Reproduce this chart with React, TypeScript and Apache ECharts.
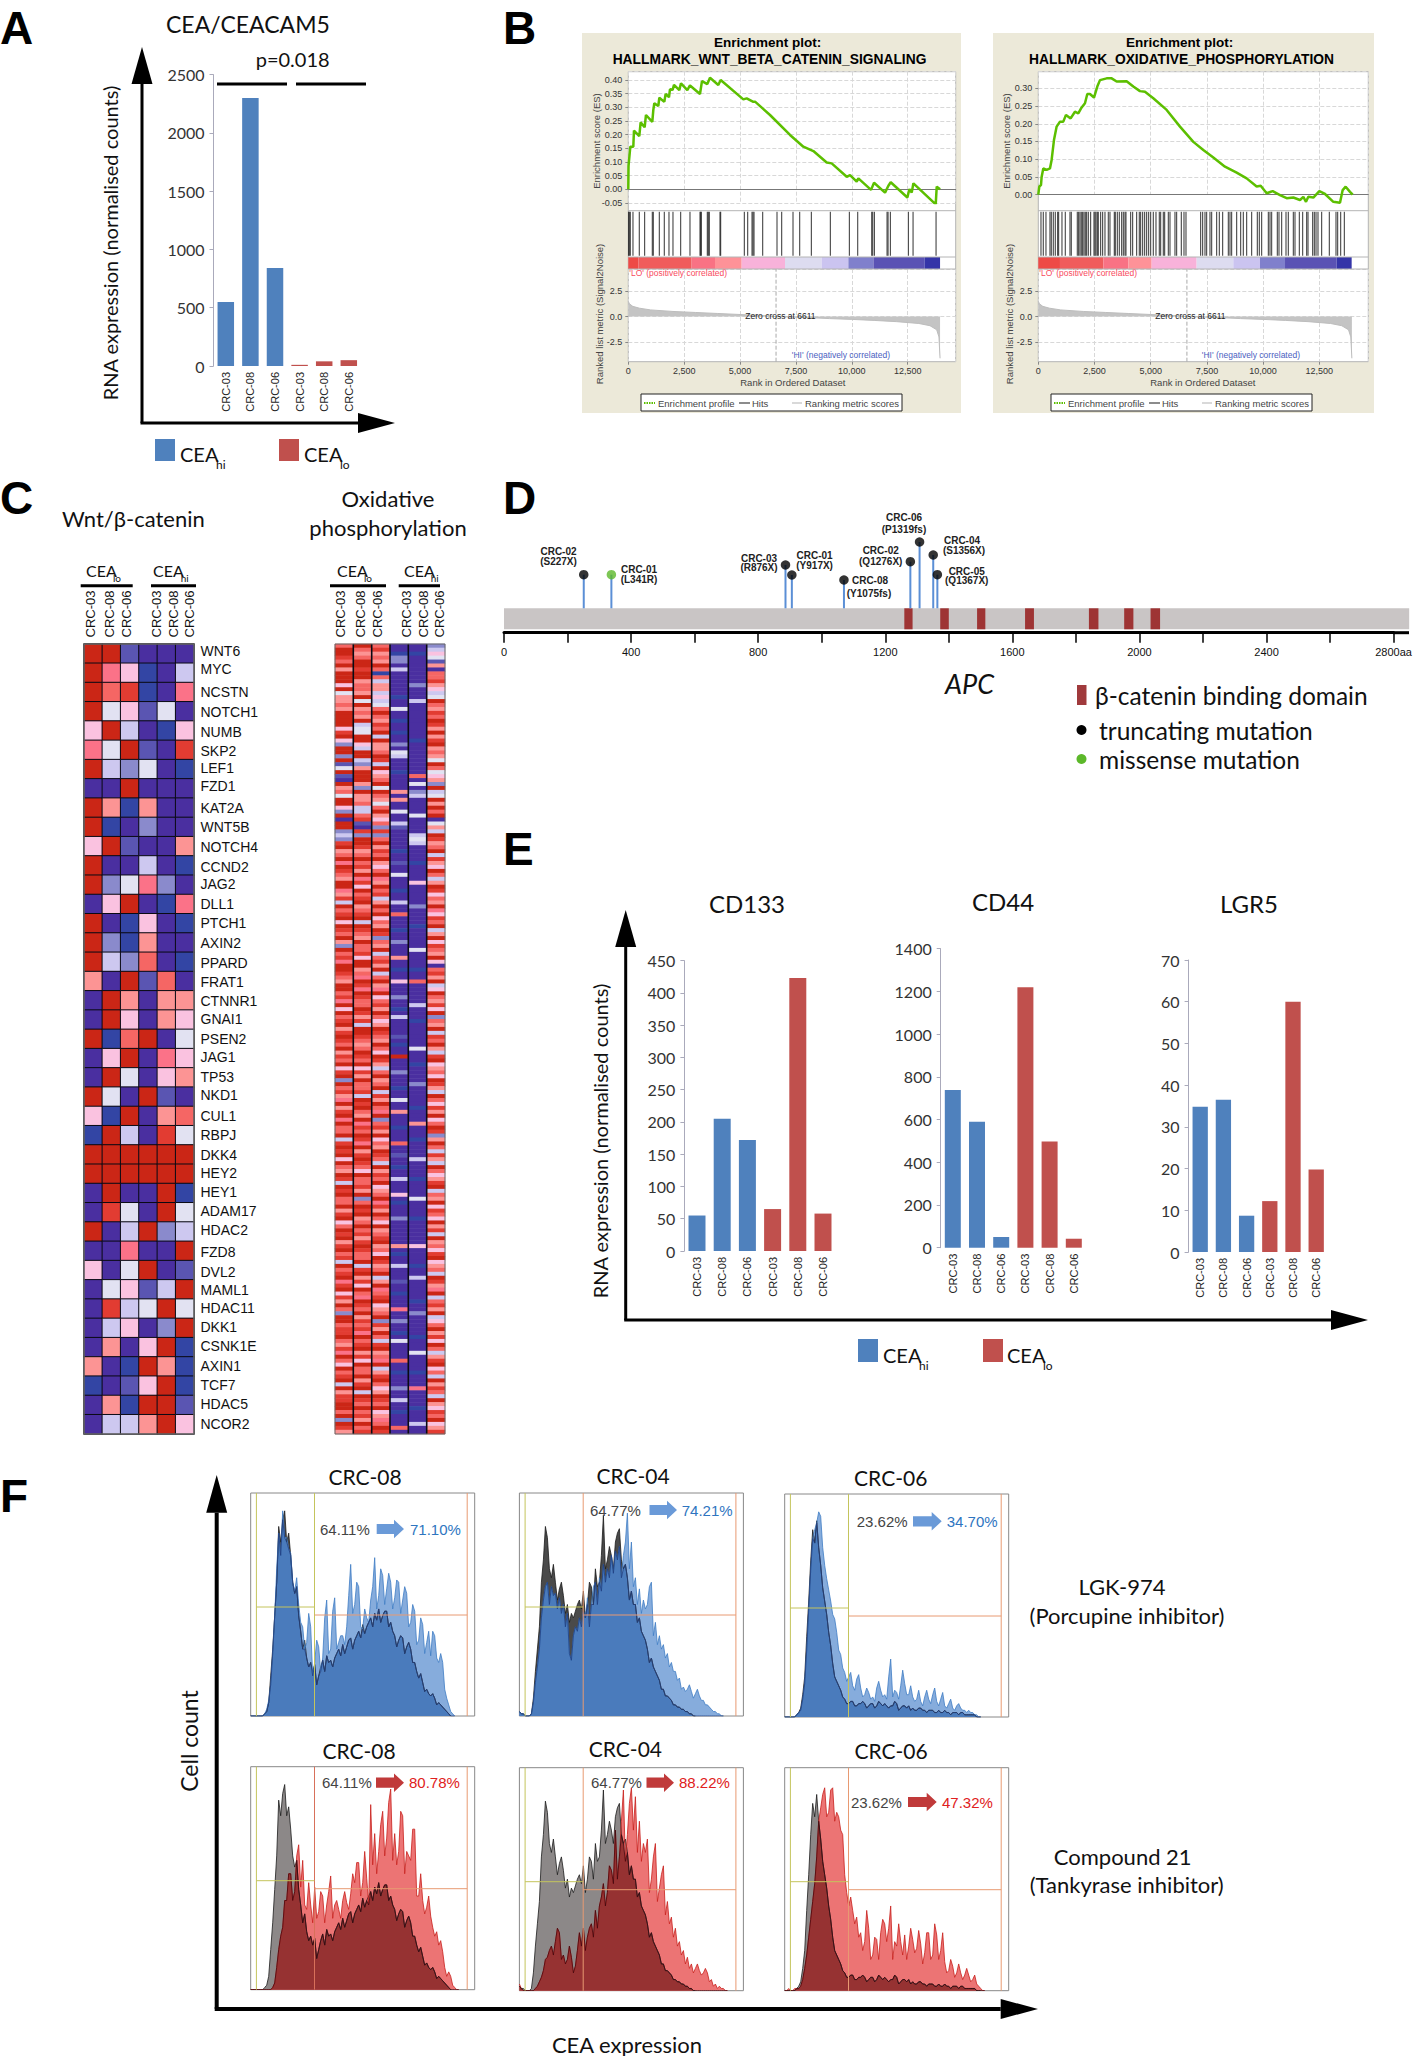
import React, { useEffect, useRef } from "react";
import * as echarts from "echarts";

const SAMPLES = ["CRC-03", "CRC-08", "CRC-06", "CRC-03", "CRC-08", "CRC-06"];
const CEA_VALUES = [550, 2300, 840, 10, 40, 50];
const CD133_VALUES = [55, 205, 172, 65, 423, 58];
const CD44_VALUES = [738, 590, 50, 1220, 497, 42];
const LGR5_VALUES = [34.8, 36.5, 8.7, 12.2, 60, 19.8];
const BAR_GROUP_A = ["hi", "hi", "hi", "lo", "lo", "lo"];

const WNT_ES: number[][] = [[0,0],[10,0.085],[90,0.156],[224,0.156],[254,0.215],[492,0.195],[552,0.245],[731,0.227],[791,0.272],[1074,0.247],[1119,0.29],[1164,0.315],[1343,0.305],[1388,0.335],[1611,0.32],[1671,0.349],[1820,0.337],[1865,0.366],[1984,0.364],[2044,0.382],[2283,0.363],[2357,0.388],[2641,0.363],[2760,0.38],[3208,0.349],[3297,0.396],[3536,0.385],[3655,0.408],[4028,0.382],[4133,0.4],[5147,0.329],[5297,0.333],[5595,0.32],[5684,0.32],[6341,0.272],[7236,0.199],[7833,0.156],[8281,0.14],[8877,0.098],[9101,0.095],[9773,0.046],[9922,0.052],[10220,0.028],[10295,0.04],[10862,-0.002],[10996,0.024],[11488,-0.012],[11638,0.013],[11742,0.026],[12488,-0.03],[12578,0.001],[12682,-0.012],[12757,0.022],[13756,-0.055],[13801,0.01],[13950,0]];
const OX_ES: number[][] = [[0,0],[44,0.023],[119,0.027],[148,0.05],[222,0.074],[371,0.07],[519,0.074],[593,0.098],[697,0.154],[816,0.192],[964,0.206],[1112,0.206],[1231,0.225],[1438,0.215],[1631,0.234],[1779,0.229],[1928,0.246],[2076,0.258],[2180,0.284],[2299,0.284],[2477,0.274],[2625,0.305],[2744,0.323],[3040,0.328],[3263,0.328],[3485,0.319],[3930,0.32],[4226,0.305],[4523,0.292],[4746,0.29],[5116,0.272],[5710,0.239],[6303,0.192],[6896,0.149],[7341,0.126],[7786,0.105],[8305,0.079],[8824,0.062],[9269,0.046],[9714,0.023],[9892,0.025],[10159,0.004],[10426,0.01],[10752,-0.001],[11049,-0.01],[11345,-0.008],[11642,-0.015],[11790,-0.006],[11909,-0.02],[12012,-0.006],[12235,-0.008],[12502,0.01],[12754,0.002],[13125,-0.02],[13421,-0.023],[13540,0.013],[13673,0.0226],[13866,0.008],[13985,0]];
const WNT_HITS = [15,45,90,209,492,731,1074,1119,1388,1611,1820,1999,2343,2760,3208,3238,3268,3536,3581,3626,4103,4133,5192,5342,5536,5580,5625,6013,6654,6863,7370,7669,8191,9041,9892,10265,10892,10937,11012,11578,11623,11727,12533,12742,13771];
const OX_HITS = [119,222,341,519,578,667,756,860,905,1053,1201,1409,1468,1735,1794,1854,1913,1972,2032,2091,2150,2225,2328,2477,2521,2566,2625,2669,2773,2862,2966,3114,3188,3381,3426,3515,3604,3708,3782,3856,3900,4108,4197,4375,4493,4553,4642,4731,4820,4909,4998,5116,5235,5383,5443,5561,5621,5784,5858,6080,6154,6362,6481,6570,7222,7311,7415,7489,7637,7712,7934,8053,8201,8453,8527,8601,8824,9002,9120,9269,9491,9743,9832,9936,10233,10307,10381,10633,10707,10826,11019,11122,11345,11419,11612,11760,11938,11998,12205,12279,12354,12442,12605,12946,13243,13317,13451,13614];
const RANK_METRIC: number[][] = [[0,1.5],[50,1.25],[200,1.0],[500,0.82],[1000,0.65],[2000,0.5],[3000,0.4],[4000,0.3],[5000,0.2],[6000,0.1],[6611,0],[8000,-0.1],[9000,-0.2],[10000,-0.28],[11000,-0.38],[12000,-0.5],[13000,-0.68],[13500,-0.9],[13800,-1.3],[13900,-2],[13950,-4.1]];
const WNT_BAND_EDGES = [0,447,2834,3879,5073,7013,8654,9848,10968,13251,13950];
const OX_BAND_EDGES = [0,964,2892,4004,5042,7044,8675,9863,10975,13273,13940];
const BAND_COLORS = ["#ee4a46","#f05c5c","#f97284","#fe9298","#f8b2da","#dddcf0","#cbc4f0","#8080cc","#5a52b4","#3434a8"];
const ZERO_CROSS = 6611;

const GENES = ["WNT6","MYC","NCSTN","NOTCH1","NUMB","SKP2","LEF1","FZD1","KAT2A","WNT5B","NOTCH4","CCND2","JAG2","DLL1","PTCH1","AXIN2","PPARD","FRAT1","CTNNR1","GNAI1","PSEN2","JAG1","TP53","NKD1","CUL1","RBPJ","DKK4","HEY2","HEY1","ADAM17","HDAC2","FZD8","DVL2","MAML1","HDAC11","DKK1","CSNK1E","AXIN1","TCF7","HDAC5","NCOR2"];
const GENE_LABEL_Y = [651,669,692,712,732,751,768,786,808,827,847,867,884,904,923,943,963,982,1001,1019,1039,1057,1077,1095,1116,1135,1155,1173,1192,1211,1230,1252,1272,1290,1308,1327,1346,1366,1385,1404,1424];
const WNT_ROWS = ["DDUNNN","DKPBNL","DSRBNK","DWPUWN","PDLNBP","KWDUNR","DLVWNB","NNDNNN","DMBMNN","DBNVNN","PDUNNM","DNNLNB","DVWKVN","NPDNBK","DNBPNB","DVBMNN","DLVSNB","MNDUSN","NDMNMM","NDPNMP","DBSDNW","NPDNKP","NDWNPM","DWNDUN","PBDNMS","BDLNRW","DDDDDD","DDDDDD","NDNNDB","NRWNDW","DNLDVL","NNKNND","PNWDNU","NWPULD","NRLWDW","NLPNVD","NMNPDB","MNBDMB","BNUPDB","NMBDDU","NLLMDP"];
const LEVEL_KEYS = "DRSKMPWLVUNB";
const LEVEL_COLORS = ["#cb2616","#e23c32","#f56664","#fb7288","#fc9494","#fac2e0","#e2e2f2","#cdc8f0","#8a8acc","#5a55b2","#4a2fa0","#3345a4"];

const OX_COLUMNS = [
  "SDDRSDMDDDPDWMMSMDDDDPRDPVDDVDUWDUNDMSWDDPVDNDDVLV"+"RDMSDKDRSMDDKMRLDSRDPDRSDMVDSRKDDRSMDDSRKDPDSRDMRD"+"RSDMRSDPRDVDSRMKDMRDKDSSDLRDRDPDSMDRLDRDSSDMRDPSDR"+"DMRDSRLDSRDKRDPRMDSVDDSRRDSMRKDSPDSRDLDMRRDDSDVDRM",
  "DSMSDDRDDMSSMDWDMSMDLWWDDPLDDLVMDDDMVDMMSLLSRUNRVD"+"DRMSDSRMDKRPDSRDMSRDLDRSMDSSRPDDMSKDRKDRSSDRMRLDDR"+"SMSDRSDPRMDSSRLDRDSMDKRSDRKDMRDRSPDSSRMDVSDRDMSDSR"+"MRDRSSDLRDMRPDSKDRSDMRSRKDSRDMRPDSSDMRDLDRSDSRMDSR",
  "SRMSMDSBSLMMLPLWSDSMRSDLDMMSDRLDPMSDWDSMWSDMPSVRVS"+"DMRSDMPSDKMDSRLMDSDPSMDRVSMDLSRMDLSDMKDPSRMDSPMDRS"+"MDSPDRMLSDMSDLRMDSKDVSRMDPSMDRSLDMRSDPMSDKRMDSPDMS"+"RDMSPDRMSDLMDKSRDPMSDVRMDSLRDMSKDLMRDSPMDRSDPMKSDR",
  "NNBVVNLNNNNNNBNNWNNBNNBNNVNWLNNNBNNNNMNMNNWNNLUNNN"+"NNBNNUNNWNNNBNNLNNSNNNBNNVNNNMNNBNNPNNNVNNBNLNNNNU"+"NBNNDNNNVNNNBNNWNNMNNNBNNNSNNUNNBNNLNNNPNBNNNVNNNN"+"NNMNBNNLNNNUNNBNNNKNNVNNBNWNNNNSNNBNNNVNNLNNBNNNSN",
  "NNBNNNNNNNVNNNLNNNNNNNNNBNNNNNNNNSNWNVLNNNNWNNNNLW"+"LNNNNBNNNNPNNNNNVNNNNBNNNNNWNNNNBNNSNNNNNLNNNBNNNN"+"NNWNNNBNNNNVNNNNNBNNNMNNNBNNNNLNNNNBNNNNWNNNNBNNNN"+"NNPNNNNBNNLNNNNNBNNVNNNNNBNNNWNNNNBNNNKNNNNBNNNLNN",
  "VLPWUMNSSRMPLWDSMRSDRMDMRDMSMWDSWPMVDLWDMDSDNWMLDR"+"MSDLRMPDSLMDRPSMDKPRSDLMDPRSMDPNSRMDLPDSMRPDVSMDLR"+"SDMLRDPMSPDRMLDSPRMDPSDRVMDSLRMLDSPMRDLSMDPRSPDMRL"+"DMSPRDPMSLDRMKDLSRMDLPSDMRPDSLMRDPSLDMRSLDMPRSDPMR",
];

const MUT_POS = [251,338,886,906,1070,1279,1308,1351,1364];
const MUT_HEIGHT = [33.6,33.6,43.3,33.3,28.3,46.6,66.3,53.3,33.6];
const MUT_TYPE = ["truncating","missense","truncating","truncating","truncating","truncating","truncating","truncating","truncating"];
const MUT_SAMPLE = ["CRC-02","CRC-01","CRC-03","CRC-01","CRC-08","CRC-02","CRC-06","CRC-04","CRC-05"];
const MUT_CHANGE = ["(S227X)","(L341R)","(R876X)","(Y917X)","(Y1075fs)","(Q1276X)","(P1319fs)","(S1356X)","(Q1367X)"];
const MUT_LABEL_XY = [[558.5,551,558.5,561.3],[639,569.3,639,579.3],[759,558,759,567.3],[814.6,555.7,814.6,565.3],[870,580,869,593.3],[880.7,550.7,880.7,561.3],[904,517.7,904,529.3],[962,540,964,550.3],[966.7,571,966.7,580.7]];
const DOMAINS = [[1260,1286],[1373,1400],[1489,1515],[1640,1668],[1841,1871],[1952,1981],[2035,2065]];
const APC_LENGTH_SHOWN = 2849;

const GREY_08 = [0,0,0,0,0,0,0,1,2,6,18,30,45,60,85,78,88,92,78,82,72,60,55,58,45,38,30,34,26,22,24,20,23,14,18,22,25,20,27,24,25,22,26,28,30,27,32,28,31,34,35,30,34,36,38,35,41,37,40,42,44,40,46,43,48,42,45,47,47,40,42,38,36,31,34,36,35,28,31,33,30,24,24,20,17,19,15,11,12,10,9,10,8,5,6,5,4,3,2,1,0];
const BLUE_08 = [0,0,0,0,0,0,0,1,3,7,14,28,45,66,82,72,92,80,80,75,73,60,56,62,50,42,40,30,33,46,40,18,24,34,31,20,26,44,52,28,30,47,53,30,33,36,36,32,40,54,68,46,50,60,58,40,39,48,44,42,52,58,71,48,54,66,63,50,57,64,60,48,53,61,60,46,52,58,55,40,42,50,47,32,34,44,41,28,33,38,27,38,36,26,24,28,24,12,8,5,2,1,0];
const RED_08 = [0,0,0,0,0,0,0,0,0,0,0,1,3,10,18,24,28,40,40,52,52,40,44,60,65,46,58,38,36,48,38,30,46,32,35,44,42,30,38,44,51,32,38,40,36,32,40,44,39,36,43,52,48,57,57,42,48,62,50,38,83,56,70,52,62,74,80,60,68,84,90,58,70,56,62,80,78,52,62,60,58,72,72,42,42,52,40,34,37,42,33,28,24,26,20,22,17,10,6,8,6,2,1,0,0];
const GREY_04 = [2,1,1,0,0,0,1,8,20,30,40,60,70,85,80,66,62,68,60,52,57,60,54,46,50,42,46,44,47,50,52,48,56,44,50,60,58,50,66,58,60,72,90,66,70,76,72,66,78,82,84,70,66,68,62,52,56,50,50,42,44,38,36,34,30,24,26,22,20,18,16,12,12,9,9,8,7,5,5,4,4,3,3,2,2,1,1,0,0];
const BLUE_04 = [2,1,1,0,0,0,1,6,15,22,30,44,52,58,60,50,58,54,55,48,53,46,50,40,46,28,25,36,40,38,44,40,47,44,53,40,50,58,60,50,62,56,68,60,66,62,72,64,74,70,76,62,72,78,91,66,78,58,62,50,57,46,52,48,50,58,60,36,42,32,36,30,32,26,28,22,24,20,20,16,17,12,13,11,12,14,11,8,10,12,9,7,7,5,5,4,3,2,2,1,1,0,0];
const RED_04 = [3,1,0,0,0,0,0,0,1,2,4,6,9,14,15,18,20,16,22,28,26,14,16,12,14,20,15,8,11,18,26,20,28,18,24,28,30,24,36,28,38,42,48,38,44,56,54,48,72,50,60,76,90,58,70,84,91,72,87,62,76,58,66,62,68,44,50,60,66,40,46,52,56,34,40,30,33,24,28,20,22,16,18,12,15,10,12,8,10,12,9,7,8,10,8,4,5,2,3,1,2,1,1,0,0];
const GREY_06 = [0,0,0,0,0,0,1,2,4,10,18,36,52,70,84,78,88,76,68,58,52,46,38,32,24,18,16,14,12,9,8,6,6,7,7,5,5,6,6,7,6,4,5,6,6,4,5,7,6,5,6,5,4,5,5,7,6,3,4,5,5,4,5,3,4,3,3,4,4,3,3,2,3,3,3,2,2,3,2,2,3,2,2,1,2,2,2,1,2,2,1,1,1,1,1,1,0,0,0];
const BLUE_06 = [0,0,0,0,0,0,1,2,3,8,15,30,48,66,80,84,87,92,90,76,68,62,57,52,46,44,38,30,28,22,20,16,18,20,14,12,17,19,13,9,10,13,11,8,9,7,13,16,12,9,10,8,18,26,9,12,11,8,14,21,15,10,10,14,9,7,8,12,7,5,9,12,8,6,10,13,7,5,8,11,5,4,6,8,4,3,5,6,4,3,3,2,3,2,2,1,1,0,0];
const RED_06 = [0,0,1,0,0,1,1,1,2,5,10,16,24,32,40,48,60,76,82,88,91,78,80,90,91,76,80,78,72,70,52,44,38,42,36,30,33,24,26,18,22,36,28,14,16,24,23,14,26,32,30,22,28,38,14,22,20,30,22,16,25,14,20,28,23,17,19,27,21,12,17,26,26,14,16,30,25,14,18,26,13,8,9,14,11,6,8,12,8,5,7,10,7,4,5,7,3,2,1,0,0];

const SANS = "'Liberation Sans'";
const HUMAN = "Lato";
const BLUE = "#4f81bd";
const RED = "#c0504d";

const grids: any[] = [], xAxes: any[] = [], yAxes: any[] = [], series: any[] = [], gfx: any[] = [];

function addGrid(left: number, top: number, width: number, height: number, g: any, xa: any, ya: any) {
  const i = grids.length;
  grids.push({ left, top, width, height, show: false, containLabel: false, ...g });
  xAxes.push({ gridIndex: i, type: "value", show: false, ...xa });
  yAxes.push({ gridIndex: i, type: "value", show: false, ...ya });
  return i;
}
function T(text: string, x: number, y: number, o: any = {}) {
  const { size = 14, weight = "normal", family = HUMAN, color = "#111", align = "left", rot = 0, italic = false } = o;
  gfx.push({
    type: "text", x, y, rotation: rot, z: 100,
    style: { text, fill: color, font: `${italic ? "italic " : ""}${weight} ${size}px ${family}`, align, verticalAlign: "middle", textAlign: align, textVerticalAlign: "middle" },
  });
}
function L(x1: number, y1: number, x2: number, y2: number, stroke: string, lineWidth = 1, z = 100, lineDash?: number[]) {
  gfx.push({ type: "line", z, shape: { x1, y1, x2, y2 }, style: { stroke, lineWidth, lineDash } });
}
function R(x: number, y: number, width: number, height: number, fill: string, stroke?: string, lineWidth = 1, z = 100) {
  gfx.push({ type: "rect", z, shape: { x, y, width, height }, style: { fill, stroke, lineWidth } });
}
function P(points: number[][], fill: string) {
  gfx.push({ type: "polygon", z: 100, shape: { points }, style: { fill } });
}
function axesArrows(x0: number, yTop: number, yBase: number, yBot: number, xTip: number, xBase: number, halfUp: number, halfRight: number, w: number) {
  L(x0, yBase, x0, yBot, "#000", w);
  L(x0 - w / 2, yBot, xBase, yBot, "#000", w);
  P([[x0, yTop], [x0 - halfUp, yBase], [x0 + halfUp, yBase]], "#000");
  P([[xTip, yBot], [xBase, yBot - halfRight], [xBase, yBot + halfRight]], "#000");
}
function ceaLegend(x: number, y: number, w: number, h: number, textX: number, textY: number, subDx: number, subDy: number, color: string, sub: string, size: number) {
  R(x, y, w, h, color);
  T("CEA", textX, textY, { size });
  T(sub, textX + subDx, textY + subDy, { size: size * 0.6 });
}

function barPanel(left: number, top: number, unit: number, height: number, values: number[], ymax: number, interval: number, bw: number) {
  const i = addGrid(left, top, unit * 6, height, {},
    { type: "category", show: true, data: SAMPLES, axisLine: { show: false }, axisTick: { show: false },
      axisLabel: { rotate: 90, interval: 0, margin: 6, fontSize: 11, fontFamily: SANS, color: "#222" } },
    { show: true, min: 0, max: ymax, interval, splitLine: { show: false },
      axisLine: { show: true, lineStyle: { color: "#aab", width: 1 } },
      axisTick: { show: true, length: 4, lineStyle: { color: "#aab" } },
      axisLabel: { fontSize: 16, fontFamily: HUMAN, color: "#333", margin: 9, formatter: (v: number) => String(v) } });
  series.push({ type: "bar", xAxisIndex: i, yAxisIndex: i, barWidth: bw,
    data: values.map((v, k) => ({ value: v, itemStyle: { color: BAR_GROUP_A[k] === "hi" ? BLUE : RED } })) });
}

const heatSeries: number[] = [];
function heat(left: number, top: number, width: number, height: number, rows: number, columns: (c: number, r: number) => string, border: number) {
  const i = addGrid(left, top, width, height, {},
    { type: "category", data: [0, 1, 2, 3, 4, 5] },
    { type: "category", inverse: true, data: Array.from({ length: rows }, (_, k) => k) });
  const data: number[][] = [];
  for (let c = 0; c < 6; c++) for (let r = 0; r < rows; r++) data.push([c, r, LEVEL_KEYS.indexOf(columns(c, r))]);
  heatSeries.push(series.length);
  series.push({ type: "heatmap", xAxisIndex: i, yAxisIndex: i, data,
    itemStyle: border ? { borderColor: "#0a0a14", borderWidth: border } : {} });
}

function heatHeader(cols: number[], x1: number, lo: number, x2: number, hi: number, l1: number[], l2: number[]) {
  T("CEA", x1, 570, { size: 16 }); T("lo", lo, 578, { size: 10 });
  T("CEA", x2, 570, { size: 16 }); T("hi", hi, 578, { size: 10 });
  L(l1[0], 585.7, l1[1], 585.7, "#000", 3); L(l2[0], 585.7, l2[1], 585.7, "#000", 3);
  cols.forEach((x, k) => T(SAMPLES[k], x, 614, { size: 13, family: SANS, align: "center", rot: Math.PI / 2 }));
}

function gsea(cfg: any) {
  const { bx, bw, left, right, xMax, title, es, hits, edges, esMin, esMax, esTop, esBottom, esClip } = cfg;
  const width = right - left;
  addGrid(bx, 33, bw, 380, { show: true, backgroundColor: "#ece9d9", borderWidth: 0 }, { min: 0, max: 1 }, { min: 0, max: 1 });
  addGrid(left, 71.7, width, 290, { show: true, backgroundColor: "#fff", borderColor: "#b4b4b4", borderWidth: 1 }, { min: 0, max: 1 }, { min: 0, max: 1 });
  const dash = { show: true, lineStyle: { color: "#d8d8d8", type: "dashed", width: 1 } };
  const ei = addGrid(left, esTop, width, esBottom - esTop, {},
    { show: true, min: 0, max: xMax, interval: 2500, axisLabel: { show: false }, axisTick: { show: false }, splitLine: dash,
      axisLine: { show: true, onZero: true, lineStyle: { color: "#777", width: 1 } } },
    { show: true, min: esMin, max: esMax, interval: 0.05, splitLine: dash, axisLine: { show: false },
      axisTick: { show: true, length: 3, lineStyle: { color: "#888" } },
      axisLabel: { showMaxLabel: false, margin: 6, fontSize: 9, fontFamily: SANS, color: "#333", formatter: (v: number) => v.toFixed(2) } });
  series.push({ type: "line", xAxisIndex: ei, yAxisIndex: ei, data: es, symbol: "none", clip: !esClip, z: 5, lineStyle: { color: "#5cbf00", width: 2.5 } });
  const hi = addGrid(left, 210.7, width, 46, {}, { min: 0, max: xMax }, { min: 0, max: 1 });
  series.push({ type: "scatter", xAxisIndex: hi, yAxisIndex: hi, symbol: "rect", symbolSize: [1.1, 44], itemStyle: { color: "#151515" }, data: hits.map((h: number) => [h, 0.5]) });
  const ci = addGrid(left, 257, width, 12, {}, { min: 0, max: xMax }, { min: 0, max: 1 });
  series.push({ type: "custom", xAxisIndex: ci, yAxisIndex: ci,
    data: edges.slice(0, -1).map((e: number, k: number) => [e, edges[k + 1]]),
    renderItem: (p: any, api: any) => {
      const a = api.coord([api.value(0), 0]), b = api.coord([api.value(1), 1]);
      return { type: "rect", shape: { x: a[0], y: b[1], width: b[0] - a[0], height: a[1] - b[1] }, style: { fill: BAND_COLORS[p.dataIndex] } };
    } });
  const fi = addGrid(left, 269, width, 92.7, {},
    { show: true, min: 0, max: xMax, interval: 2500, axisLine: { show: false }, axisTick: { show: true, length: 3, lineStyle: { color: "#888" } }, splitLine: dash,
      axisLabel: { showMaxLabel: false, margin: 5, fontSize: 9, fontFamily: SANS, color: "#333", formatter: (v: number) => v.toLocaleString("en-US") } },
    { min: 0, max: 1 });
  series.push({ type: "line", xAxisIndex: fi, yAxisIndex: fi, symbol: "none", data: [[ZERO_CROSS, 0], [ZERO_CROSS, 1]], lineStyle: { color: "#aaa", width: 1, type: "dashed" } });
  const ri = addGrid(left, 269, width, 73, {},
    { min: 0, max: xMax },
    { show: true, min: -2.5, max: 4.67, interval: 2.5, axisLine: { show: false }, splitLine: dash,
      axisTick: { show: true, length: 3, lineStyle: { color: "#888" } },
      axisLabel: { showMaxLabel: false, margin: 6, fontSize: 9, fontFamily: SANS, color: "#333", formatter: (v: number) => v.toFixed(1) } });
  series.push({ type: "line", xAxisIndex: ri, yAxisIndex: ri, symbol: "none", clip: false, data: RANK_METRIC, z: 4, lineStyle: { color: "#bdbdbd", width: 1 }, areaStyle: { color: "#c4c4c4", origin: 0, opacity: 1 } });
  L(left, 210.7, right, 210.7, "#b4b4b4", 1); L(left, 257, right, 257, "#b4b4b4", 1); L(left, 269, right, 269, "#b4b4b4", 1);
  const cx = bx + bw / 2 - 2;
  T("Enrichment plot:", cx - 2, 42, { size: 13.5, weight: "bold", family: SANS, align: "center", color: "#000" });
  T(title, cx, 59, { size: 13.8, weight: "bold", family: SANS, align: "center", color: "#000" });
  T("Enrichment score (ES)", left - 32, 141, { size: 9.5, family: SANS, color: "#444", align: "center", rot: Math.PI / 2 });
  T("Ranked list metric (Signal2Noise)", left - 28.5, 314, { size: 9.5, family: SANS, color: "#444", align: "center", rot: Math.PI / 2 });
  T("'LO' (positively correlated)", left + 1, 273, { size: 8.5, family: SANS, color: "#f84a60" });
  T("Zero cross at 6611", left + 117, 316, { size: 8.5, family: SANS, color: "#222" });
  T("'HI' (negatively correlated)", left + 163.5, 355, { size: 8.5, family: SANS, color: "#4a5ec0" });
  T("Rank in Ordered Dataset", left + 164.5, 382.7, { size: 9.5, family: SANS, color: "#444", align: "center" });
  const bxl = left + 12.7;
  R(bxl, 394, 261, 17, "#fff", "#222", 1);
  L(bxl + 3, 403, bxl + 14, 403, "#5cbf00", 2, 100, [1.5, 1]);
  T("Enrichment profile", bxl + 17, 403.5, { size: 9.5, family: SANS, color: "#444" });
  L(bxl + 98, 403, bxl + 109, 403, "#666", 1.5);
  T("Hits", bxl + 111, 403.5, { size: 9.5, family: SANS, color: "#444" });
  L(bxl + 151, 403, bxl + 161, 403, "#ccc", 1.5);
  T("Ranking metric scores", bxl + 164, 403.5, { size: 9.5, family: SANS, color: "#444" });
}

function gate(left: number, top: number, midColor: string) {
  const yellow = "#c4c45c", orange = "#e89a72";
  L(left + 5.7, top, left + 5.7, top + 223, yellow, 1);
  L(left + 63.8, top, left + 63.8, top + 223, midColor, 1);
  L(left + 216.5, top, left + 216.5, top + 223, orange, 1);
  L(left + 5.7, top + 114, left + 63.8, top + 114, yellow, 1);
  L(left + 63.8, top + 122, left + 216.5, top + 122, orange, 1);
}
function hist(left: number, top: number, grey: number[], treated: number[], scheme: any) {
  const i = addGrid(left, top, 224, 223, { show: true, backgroundColor: "#fff", borderColor: "#888", borderWidth: 1 },
    { min: 0, max: 112 }, { min: 0, max: 100 });
  const n = Math.max(grey.length, treated.length);
  const overlap = Array.from({ length: n }, (_, k) => [k, Math.min(grey[k] ?? 0, treated[k] ?? 0)]);
  const common = { type: "line", xAxisIndex: i, yAxisIndex: i, symbol: "none" };
  series.push({ ...common, data: grey.map((v, k) => [k, v]), lineStyle: { color: "#1c1c1c", width: 0.8 }, areaStyle: { color: scheme.grey, opacity: 1 } });
  series.push({ ...common, data: treated.map((v, k) => [k, v]), lineStyle: { color: scheme.line, width: 0.8 }, areaStyle: { color: scheme.light, opacity: 1 } });
  series.push({ ...common, data: overlap, lineStyle: { color: scheme.dark, width: 0.8 }, areaStyle: { color: scheme.solid, opacity: 1 } });
}
function pct(xa: number, y: number, a: string, arrow: number[], xb: number, b: string, arrowColor: string, bColor: string) {
  T(a, xa, y, { size: 15, family: SANS, color: "#444" });
  const [x1, x2] = arrow, h = 9.3, head = 10;
  P([[x1, y - h * 0.55], [x2 - head, y - h * 0.55], [x2 - head, y - h], [x2, y], [x2 - head, y + h], [x2 - head, y + h * 0.55], [x1, y + h * 0.55]], arrowColor);
  T(b, xb, y, { size: 15, family: SANS, color: bColor });
}

function build() {
  // Panel letters
  [["A", 0, 28], ["B", 503, 28], ["C", 0, 498], ["D", 503, 498], ["E", 503, 849], ["F", 0, 1496]].forEach(([t, x, y]) =>
    T(t as string, x as number, y as number, { size: 46, weight: "bold", family: SANS, color: "#000" }));

  // Panel A
  T("CEA/CEACAM5", 166, 24, { size: 23 });
  T("p=0.018", 255.7, 59, { size: 20 });
  L(217, 84, 287, 84, "#000", 3); L(296, 84, 366, 84, "#000", 3);
  T("RNA expression (normalised counts)", 110, 243, { size: 20, align: "center", rot: Math.PI / 2 });
  axesArrows(142, 47, 84, 423, 395, 358, 10.5, 10, 3);
  barPanel(213.5, 74.7, 24.6, 291.3, CEA_VALUES, 2500, 500, 16.5);
  ceaLegend(155, 439, 20, 22, 180, 454, 36, 10, BLUE, "hi", 20);
  ceaLegend(279, 439, 20, 22, 304, 454, 36, 10, RED, "lo", 20);

  // Panel B
  gsea({ bx: 582, bw: 379, left: 628.3, right: 955.7, xMax: 14650, title: "HALLMARK_WNT_BETA_CATENIN_SIGNALING", es: WNT_ES, hits: WNT_HITS, edges: WNT_BAND_EDGES, esMin: -0.05, esMax: 0.4304, esTop: 71.7, esBottom: 203, esClip: false });
  gsea({ bx: 993, bw: 381, left: 1038.3, right: 1368.3, xMax: 14680, title: "HALLMARK_OXIDATIVE_PHOSPHORYLATION", es: OX_ES, hits: OX_HITS, edges: OX_BAND_EDGES, esMin: 0, esMax: 0.3468, esTop: 71.7, esBottom: 194.7, esClip: true });

  // Panel C
  T("Wnt/β-catenin", 62, 518, { size: 22 });
  T("Oxidative", 388, 498, { size: 22, align: "center" });
  T("phosphorylation", 388, 527, { size: 22, align: "center" });
  heatHeader([90, 109.3, 126.7, 156.7, 173.3, 189.3], 86, 113, 153, 180.7, [80.7, 132.7], [151, 196]);
  heatHeader([340.7, 360, 377.3, 406.7, 423.3, 439.3], 337, 364, 404, 430.7, [330, 386], [398.7, 440]);
  heat(84, 644, 110, 790, GENES.length, (c, r) => WNT_ROWS[r][c], 1);
  R(84, 644, 110, 790, "none", "#666", 1.5);
  GENES.forEach((g, k) => T(g, 200.5, GENE_LABEL_Y[k], { size: 14, family: SANS, color: "#111" }));
  heat(335, 644, 110, 790, 200, (c, r) => OX_COLUMNS[c][r] ?? "N", 0);
  [353.3, 371.7, 390, 408.3, 426.7].forEach((x) => L(x, 644, x, 1434, "#0a0a14", 1.6));
  R(335, 644, 110, 790, "none", "#666", 1);

  // Panel D
  const di = addGrid(504, 500, 889.6, 129.3, {},
    { show: true, min: 0, max: 2800, interval: 200, offset: 3.4,
      axisLine: { show: true, onZero: false, lineStyle: { color: "#000", width: 3 } },
      axisTick: { show: true, length: 10, lineStyle: { color: "#000", width: 1.5 } },
      axisLabel: { margin: 14, fontSize: 11, fontFamily: SANS, color: "#111", interval: 0,
        formatter: (v: number) => (v === 2800 ? "2800aa" : v % 400 === 0 ? String(v) : "") }, splitLine: { show: false } },
    { min: -21, max: 108.3 });
  L(1393, 632.7, 1409, 632.7, "#000", 3);
  series.push({ type: "custom", xAxisIndex: di, yAxisIndex: di, clip: false, data: [[0, APC_LENGTH_SHOWN]],
    renderItem: (_: any, api: any) => {
      const a = api.coord([api.value(0), -21]), b = api.coord([api.value(1), 0]);
      return { type: "rect", shape: { x: a[0], y: b[1], width: b[0] - a[0], height: a[1] - b[1] }, style: { fill: "#c9c5c5" } };
    } });
  series.push({ type: "custom", xAxisIndex: di, yAxisIndex: di, clip: false, data: DOMAINS,
    renderItem: (_: any, api: any) => {
      const a = api.coord([api.value(0), -21]), b = api.coord([api.value(1), 0]);
      return { type: "rect", shape: { x: a[0], y: b[1], width: b[0] - a[0], height: a[1] - b[1] }, style: { fill: "#9e3434" } };
    } });
  series.push({ type: "custom", xAxisIndex: di, yAxisIndex: di, clip: false, data: MUT_POS.map((p, k) => [p, MUT_HEIGHT[k]]),
    renderItem: (_: any, api: any) => {
      const a = api.coord([api.value(0), 0]), b = api.coord([api.value(0), api.value(1)]);
      return { type: "line", shape: { x1: a[0], y1: a[1], x2: b[0], y2: b[1] }, style: { stroke: "#5b8fd6", lineWidth: 2 } };
    } });
  series.push({ type: "scatter", xAxisIndex: di, yAxisIndex: di, symbolSize: 9.5, z: 6,
    data: MUT_POS.map((p, k) => ({ value: [p, MUT_HEIGHT[k]], itemStyle: { color: MUT_TYPE[k] === "missense" ? "#5cb82a" : "#000" } })) });
  MUT_SAMPLE.forEach((s, k) => {
    const [x1, y1, x2, y2] = MUT_LABEL_XY[k];
    T(s, x1, y1, { size: 10, weight: "bold", family: SANS, align: "center", color: "#222" });
    T(MUT_CHANGE[k], x2, y2, { size: 10, weight: "bold", family: SANS, align: "center", color: "#222" });
  });
  T("APC", 969.6, 683, { size: 27, italic: true, align: "center" });
  R(1077, 685, 9.5, 20, "#a03a3c");
  T("β-catenin binding domain", 1095, 695, { size: 24.5 });
  gfx.push({ type: "circle", z: 100, shape: { cx: 1081.5, cy: 730, r: 5 }, style: { fill: "#000" } });
  T("truncating mutation", 1099, 730, { size: 24.5 });
  gfx.push({ type: "circle", z: 100, shape: { cx: 1081.5, cy: 759, r: 5 }, style: { fill: "#5cb82a" } });
  T("missense mutation", 1099, 759, { size: 24.5 });

  // Panel E
  T("CD133", 747, 903, { size: 24, align: "center" });
  T("CD44", 1003, 901, { size: 24, align: "center" });
  T("LGR5", 1249, 903, { size: 24, align: "center" });
  T("RNA expression (normalised counts)", 600, 1141, { size: 20, align: "center", rot: Math.PI / 2 });
  axesArrows(625.7, 910, 947, 1320, 1368, 1331, 10.5, 10, 3);
  barPanel(684.4, 960.7, 25.2, 290.3, CD133_VALUES, 450, 50, 17);
  barPanel(940.7, 948.7, 24.2, 299, CD44_VALUES, 1400, 200, 16);
  barPanel(1188.6, 960, 23.2, 292, LGR5_VALUES, 70, 10, 15.3);
  ceaLegend(858, 1339, 20, 23, 883, 1355, 36, 10, BLUE, "hi", 20);
  ceaLegend(983, 1339, 20, 23, 1007, 1355, 36, 10, RED, "lo", 20);

  // Panel F
  const blue = { grey: "#4a4a4a", light: "#86acdc", line: "#3f7cc4", solid: "#4a7bbc", dark: "#223f80" };
  const red = { grey: "#8c8888", light: "#ec7474", line: "#c8201c", solid: "#963232", dark: "#3c0a10" };
  const yellow = "#c4c45c", orange = "#e89a72";
  hist(250.7, 1493, GREY_08, BLUE_08, blue); gate(250.7, 1493, yellow);
  hist(519.4, 1493, GREY_04, BLUE_04, blue); gate(519.4, 1493, orange);
  hist(784.7, 1494, GREY_06, BLUE_06, blue); gate(784.7, 1494, yellow);
  hist(250.7, 1766.7, GREY_08, RED_08, red); gate(250.7, 1766.7, "#d8705a");
  hist(519.4, 1767.7, GREY_04, RED_04, red); gate(519.4, 1767.7, orange);
  hist(784.7, 1767.7, GREY_06, RED_06, red); gate(784.7, 1767.7, orange);
  [["CRC-08", 365, 1476.7], ["CRC-04", 633, 1475.7], ["CRC-06", 890.7, 1477], ["CRC-08", 359, 1750], ["CRC-04", 625.4, 1748], ["CRC-06", 891, 1750]].forEach(([t, x, y]) =>
    T(t as string, x as number, y as number, { size: 21, align: "center" }));
  pct(320, 1529, "64.11%", [376.7, 404], 410, "71.10%", "#6a9ad8", "#2e75c0");
  pct(590, 1510, "64.77%", [649.5, 677], 681.7, "74.21%", "#6a9ad8", "#2e75c0");
  pct(856.7, 1521.3, "23.62%", [913, 941.7], 946.7, "34.70%", "#6a9ad8", "#2e75c0");
  pct(322, 1782.7, "64.11%", [376, 404], 409, "80.78%", "#c03a3a", "#e02020");
  pct(591, 1782.7, "64.77%", [646.5, 674], 679, "88.22%", "#c03a3a", "#e02020");
  pct(851, 1802, "23.62%", [908, 936.7], 942, "47.32%", "#c03a3a", "#e02020");
  T("Cell count", 189, 1741, { size: 23, align: "center", rot: Math.PI / 2 });
  T("CEA expression", 627, 2044, { size: 22, align: "center" });
  axesArrows(216.7, 1475, 1512.7, 2009, 1038, 1000.7, 10.5, 10, 4);
  T("LGK-974", 1122, 1586.7, { size: 22, align: "center" });
  T("(Porcupine inhibitor)", 1127, 1615, { size: 22, align: "center" });
  T("Compound 21", 1122.7, 1856, { size: 22, align: "center" });
  T("(Tankyrase inhibitor)", 1126.7, 1884, { size: 22, align: "center" });

  return {
    animation: false,
    backgroundColor: "#fff",
    grid: grids, xAxis: xAxes, yAxis: yAxes, series,
    visualMap: { type: "piecewise", show: false, dimension: 2, seriesIndex: heatSeries,
      pieces: LEVEL_COLORS.map((color, value) => ({ value, color })) },
    graphic: { elements: gfx },
  };
}

let builtOption: any = null;

export default function App() {
  const ref = useRef<HTMLDivElement>(null);
  useEffect(() => {
    const chart = echarts.init(ref.current!, undefined, { renderer: "svg" });
    if (!builtOption) builtOption = build();
    chart.setOption(builtOption);
    return () => chart.dispose();
  }, []);
  return <div ref={ref} style={{ position: "absolute", left: 0, top: 0, width: 1417, height: 2056 }} />;
}
